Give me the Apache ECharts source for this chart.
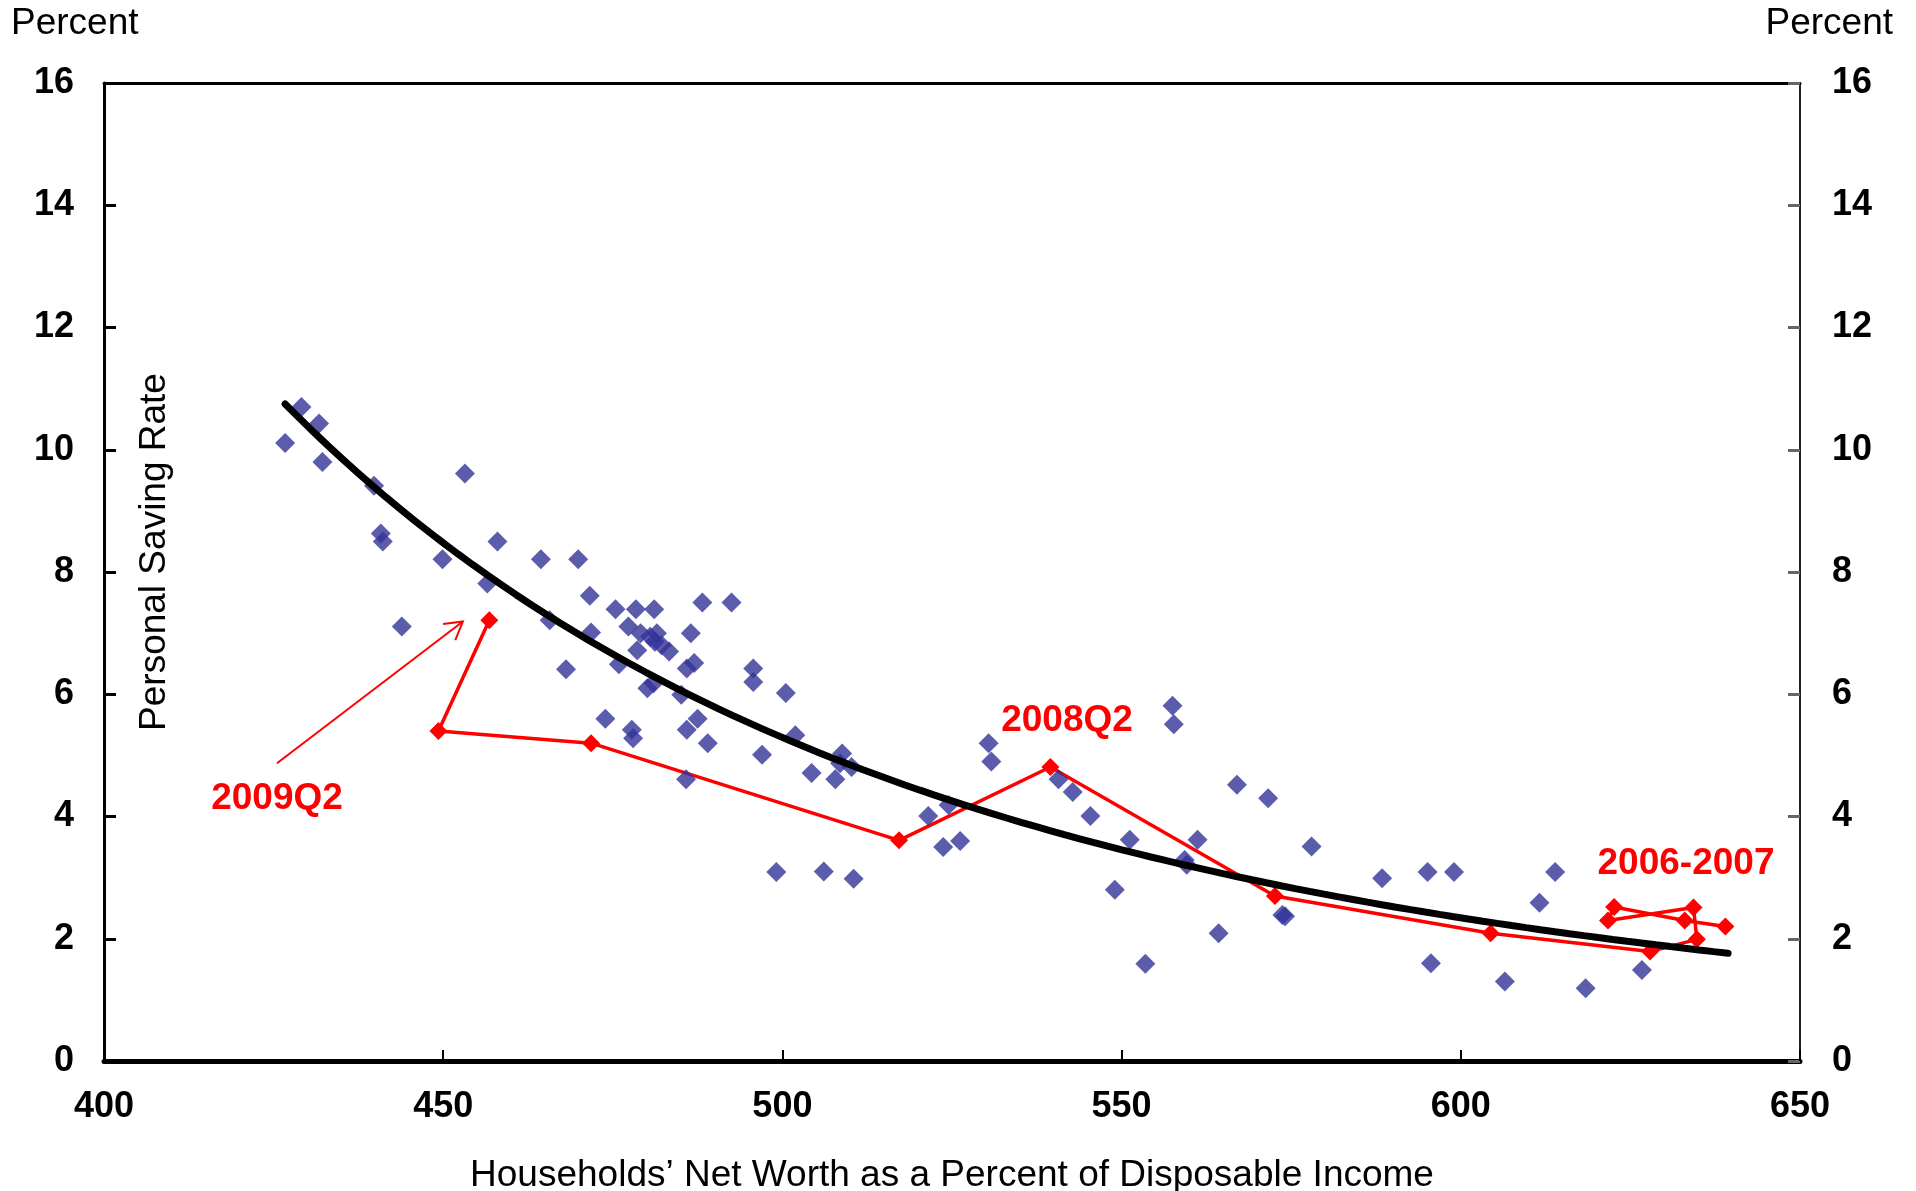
<!DOCTYPE html>
<html>
<head>
<meta charset="utf-8">
<script src="https://cdn.jsdelivr.net/npm/echarts/dist/echarts.min.js"></script>
<style>
  html, body { margin: 0; padding: 0; background: #ffffff; }
  #chart { width: 1916px; height: 1191px; }
</style>
</head>
<body>
<div id="chart"></div>
<script>
// Historical quarters: households' net worth (% of disposable income) vs personal saving rate (%)
const netWorth = [
  426.7, 429.1, 431.7, 432.2, 439.8, 440.8, 441.1, 443.9, 449.9, 453.2,
  456.5, 458.0, 464.4, 465.7, 468.1, 469.9, 471.6, 471.8, 473.9, 475.4,
  475.9, 477.3, 477.8, 478.0, 478.4, 478.6, 479.1, 480.1, 480.5, 481.0,
  481.1, 481.5, 481.2, 482.2, 483.3, 485.1, 485.8, 485.9, 485.9, 486.5,
  487.0, 487.5, 488.2, 489.0, 492.5, 495.7, 495.7, 497.0, 499.1, 500.5,
  501.9, 504.3, 506.1, 507.8, 508.5, 508.8, 510.2, 510.5, 521.5, 523.7,
  524.5, 526.2, 530.4, 530.8, 540.7, 542.8, 545.4, 549.0, 551.2, 553.5,
  557.5, 557.7, 559.3, 559.6, 561.2, 564.3, 567.0, 571.6, 573.7, 574.1,
  578.0, 588.4, 595.1, 595.6, 599.0, 606.5, 611.6, 613.9, 618.4, 626.7
];
const savingRate = [
  10.11, 10.70, 10.43, 9.80, 9.41, 8.63, 8.50, 7.11, 8.21, 9.61,
  7.81, 8.50, 8.21, 7.21, 6.41, 8.21, 7.61, 7.01, 5.60, 7.39,
  6.49, 7.11, 5.42, 5.28, 7.39, 6.72, 7.00, 6.10, 6.94, 6.18,
  7.39, 7.00, 6.86, 6.80, 6.70, 5.99, 4.61, 5.42, 6.42, 7.00,
  6.51, 5.60, 7.50, 5.20, 7.50, 6.42, 6.20, 5.01, 3.09, 6.02,
  5.33, 4.71, 3.10, 4.61, 4.87, 5.03, 4.81, 2.98, 4.01, 3.50,
  4.19, 3.60, 5.20, 4.90, 4.61, 4.40, 4.01, 2.80, 3.62, 1.59,
  5.81, 5.51, 3.29, 3.21, 3.62, 2.09, 4.52, 4.30, 2.39, 2.37,
  3.51, 2.99, 3.09, 1.60, 3.09, 1.30, 2.59, 3.09, 1.19, 1.49
];

// Recent path, 2006Q1 through 2009Q2
const recentQuarters = [
  '2006Q1', '2006Q2', '2006Q3', '2006Q4', '2007Q1', '2007Q2', '2007Q3',
  '2007Q4', '2008Q1', '2008Q2', '2008Q3', '2008Q4', '2009Q1', '2009Q2'
];
const recentNetWorth = [639.0, 633.0, 622.6, 621.7, 634.3, 634.8, 627.9, 604.4, 572.6, 539.5, 517.2, 471.8, 449.3, 456.8];
const recentSaving   = [2.20, 2.30, 2.52, 2.30, 2.51, 1.99, 1.79, 2.09, 2.70, 4.81, 3.61, 5.20, 5.40, 7.21];

// Power trend y = y0 * (x / x0)^exponent, drawn over the span of the data
const trendX = [426.7, 639.4];      // first and last net-worth value covered by the trend
const trendY0 = 10.75;              // trend value at trendX[0]
const trendExponent = -4.47;

// Pointer toward the latest quarter: [from x, from y, to x, to y]
const pointer2009 = [425.5, 4.87, 452.9, 7.19];

const xTickValues = [400, 450, 500, 550, 600, 650];
const yTickValues = [0, 2, 4, 6, 8, 10, 12, 14, 16];

const trendLine = [];
for (let i = 0; i <= 100; i++) {
  const x = trendX[0] + (trendX[1] - trendX[0]) * i / 100;
  trendLine.push([x, trendY0 * Math.pow(x / trendX[0], trendExponent)]);
}

const FONT = '"Liberation Sans", Arial, Helvetica, sans-serif';
const historical = netWorth.map((x, i) => [x, savingRate[i]]);
const recent = recentNetWorth.map((x, i) => [x, recentSaving[i], recentQuarters[i]]);

const labelStyle = { fontSize: 36, fontWeight: 'bold', color: '#000', fontFamily: FONT };

const chart = echarts.init(document.getElementById('chart'), null, { renderer: 'canvas' });
chart.setOption({
  backgroundColor: '#ffffff',
  animation: false,
  grid: { left: 104, right: 116, top: 83, bottom: 130, containLabel: false },
  xAxis: [
    {
      type: 'value', min: xTickValues[0], max: xTickValues[xTickValues.length - 1],
      interval: xTickValues[1] - xTickValues[0], position: 'bottom',
      axisLine: { show: true, onZero: false, lineStyle: { color: '#000', width: 5 } },
      axisTick: { show: true, inside: true, length: 11, lineStyle: { color: '#000', width: 2 } },
      axisLabel: Object.assign({ margin: 28 }, labelStyle),
      splitLine: { show: false }
    },
    {
      type: 'value', min: xTickValues[0], max: xTickValues[xTickValues.length - 1], position: 'top',
      axisLine: { show: true, onZero: false, lineStyle: { color: '#000', width: 3 } },
      axisTick: { show: false }, axisLabel: { show: false }, splitLine: { show: false }
    }
  ],
  yAxis: [
    {
      type: 'value', min: yTickValues[0], max: yTickValues[yTickValues.length - 1],
      interval: yTickValues[1] - yTickValues[0], position: 'left',
      axisLine: { show: true, onZero: false, lineStyle: { color: '#000', width: 3 } },
      axisTick: { show: true, inside: true, length: 12, lineStyle: { color: '#000', width: 3 } },
      axisLabel: Object.assign({ margin: 30 }, labelStyle),
      splitLine: { show: false }
    },
    {
      type: 'value', min: yTickValues[0], max: yTickValues[yTickValues.length - 1],
      interval: yTickValues[1] - yTickValues[0], position: 'right',
      axisLine: { show: true, onZero: false, lineStyle: { color: '#222', width: 2 } },
      axisTick: { show: true, inside: true, length: 12, lineStyle: { color: '#666', width: 3 } },
      axisLabel: Object.assign({ margin: 32 }, labelStyle),
      splitLine: { show: false }
    }
  ],
  series: [
    {
      name: '2006Q1-2009Q2', type: 'line', data: recent, z: 2,
      symbol: 'diamond', symbolSize: 18, showSymbol: true,
      lineStyle: { color: '#ff0000', width: 3.5 },
      itemStyle: { color: '#ff0000' }
    },
    {
      name: 'Quarterly', type: 'scatter', data: historical, z: 3,
      symbol: 'diamond', symbolSize: 20,
      itemStyle: { color: '#333399' }
    },
    {
      name: 'Trend', type: 'line', data: trendLine, z: 4,
      showSymbol: false, symbol: 'none', smooth: false,
      lineStyle: { color: '#000', width: 7, cap: 'round' }
    },
    {
      name: 'Pointer', type: 'custom', z: 5, silent: true,
      data: [pointer2009],
      renderItem: function (params, api) {
        const p0 = api.coord([api.value(0), api.value(1)]);
        const p1 = api.coord([api.value(2), api.value(3)]);
        const ang = Math.atan2(p1[1] - p0[1], p1[0] - p0[0]);
        const len = 20, spread = 0.53;
        const h1 = [p1[0] - len * Math.cos(ang - spread), p1[1] - len * Math.sin(ang - spread)];
        const h2 = [p1[0] - len * Math.cos(ang + spread), p1[1] - len * Math.sin(ang + spread)];
        return {
          type: 'group',
          children: [
            { type: 'line', shape: { x1: p0[0], y1: p0[1], x2: p1[0], y2: p1[1] },
              style: { stroke: '#ff0000', lineWidth: 2 } },
            { type: 'polyline', shape: { points: [h1, p1, h2] },
              style: { stroke: '#ff0000', lineWidth: 2, fill: null } }
          ]
        };
      }
    }
  ],
  graphic: [
    { type: 'text', x: 11, y: 24, style: { text: 'Percent', font: '37px ' + FONT, fill: '#000', align: 'left', verticalAlign: 'middle' } },
    { type: 'text', x: 1893, y: 24, style: { text: 'Percent', font: '37px ' + FONT, fill: '#000', align: 'right', verticalAlign: 'middle' } },
    { type: 'text', x: 952, y: 1176, style: { text: 'Households\u2019 Net Worth as a Percent of Disposable Income', font: '37px ' + FONT, fill: '#000', align: 'center', verticalAlign: 'middle' } },
    { type: 'text', x: 155, y: 552, rotation: Math.PI / 2, style: { text: 'Personal Saving Rate', font: '37px ' + FONT, fill: '#000', align: 'center', verticalAlign: 'middle' } },
    { type: 'text', x: 277, y: 799, style: { text: '2009Q2', font: 'bold 37px ' + FONT, fill: '#ff0000', align: 'center', verticalAlign: 'middle' } },
    { type: 'text', x: 1067, y: 721, style: { text: '2008Q2', font: 'bold 37px ' + FONT, fill: '#ff0000', align: 'center', verticalAlign: 'middle' } },
    { type: 'text', x: 1686, y: 864, style: { text: '2006-2007', font: 'bold 37px ' + FONT, fill: '#ff0000', align: 'center', verticalAlign: 'middle' } }
  ]
});
</script>
</body>
</html>
